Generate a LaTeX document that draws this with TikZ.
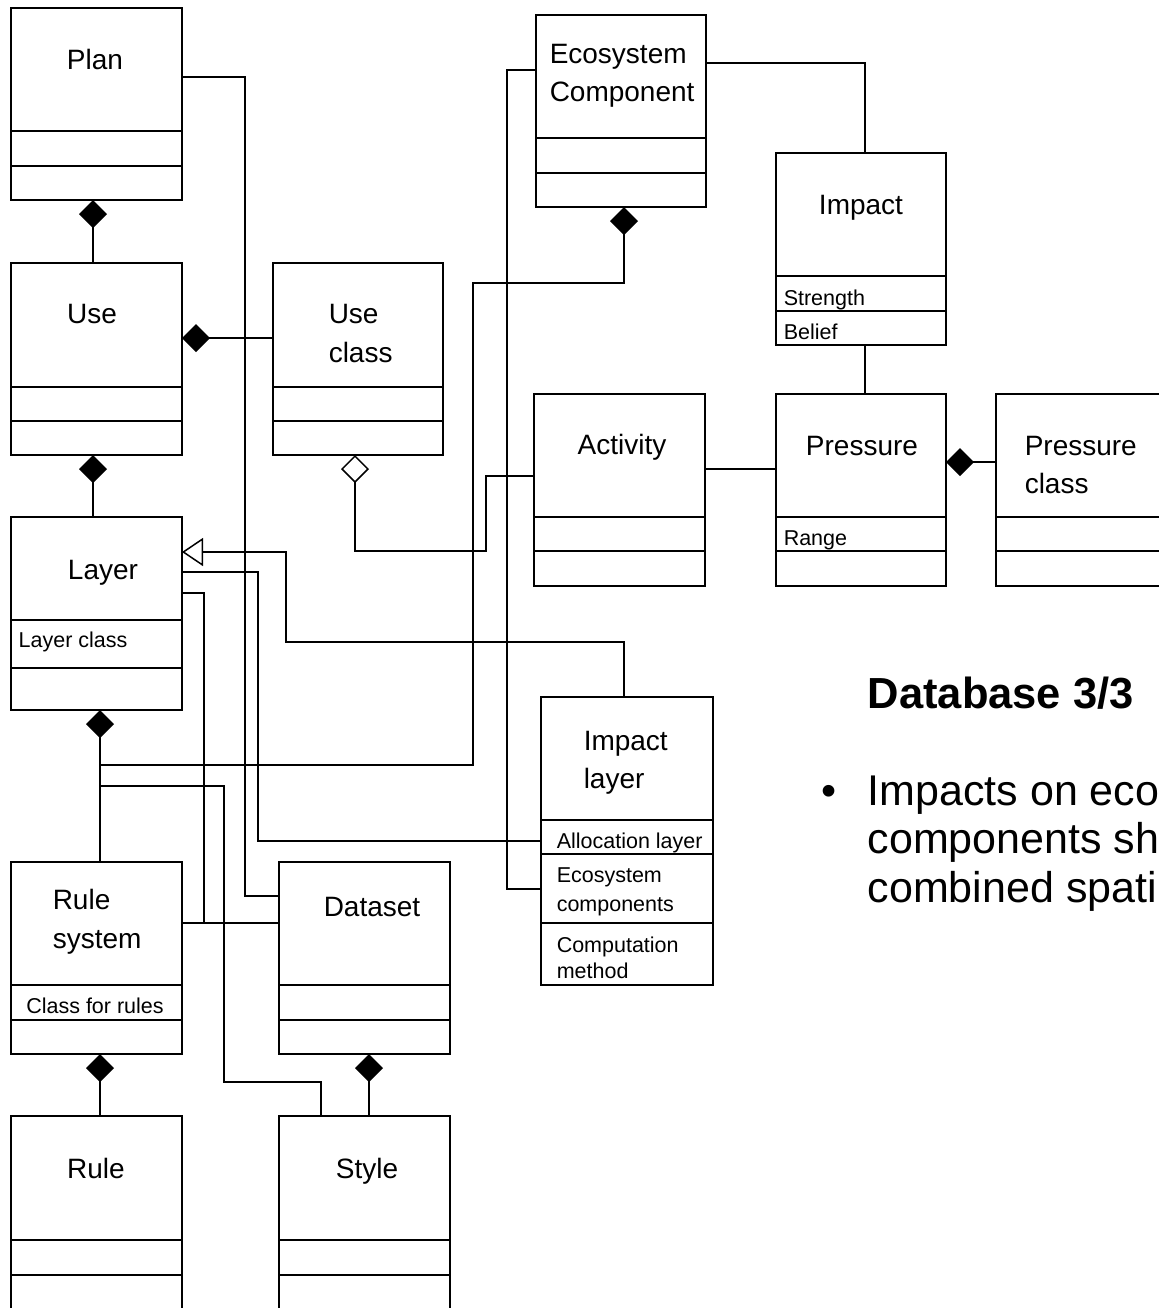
\documentclass[tikz,border=0pt]{standalone}
\usepackage{fontspec}
\setmainfont{Liberation Sans}
\usetikzlibrary{arrows.meta,calc}
\begin{document}
\begin{tikzpicture}[x=0.5pt,y=-0.5pt,
  line width=0.75pt,
  cls/.style={draw=black, rectangle, inner sep=0pt, outer sep=0pt, line width=0.75pt},
  big/.style={inner sep=0pt, font=\fontsize{14pt}{16pt}\selectfont},
  small/.style={inner sep=0pt, font=\fontsize{10.75pt}{12pt}\selectfont},
  conn/.style={draw=black, line width=0.75pt},
  comp/.style={-{Diamond[length=14pt,width=14pt,fill=black]}},
  aggr/.style={-{Diamond[length=14pt,width=14pt,open]}},
  gen/.style={-{Triangle[length=10.5pt,width=14pt,open]}}]
\clip (0,0) rectangle (1159,1308);
\useasboundingbox (0,0) rectangle (1159,1308);
\fill[white] (0,0) rectangle (1159,1308);
% box macro: name, x1, y1, x2, y2, line a, line b
\newcommand\umlbox[7]{%
  \pgfmathsetmacro\bw{(#4-#2)*0.5}%
  \pgfmathsetmacro\bh{(#5-#3)*0.5}%
  \node[cls, minimum width=\bw pt, minimum height=\bh pt] (#1) at ({(#2+#4)/2},{(#3+#5)/2}) {};
  \draw (#2,#6) -- (#4,#6);
  \draw (#2,#7) -- (#4,#7);
}
\umlbox{plan}{11}{8}{182}{200}{131}{166}
\umlbox{use}{11}{263}{182}{455}{387}{421}
\umlbox{layer}{11}{517}{182}{710}{620}{668}
\umlbox{rulesys}{11}{862}{182}{1054}{985}{1020}
\umlbox{rule}{11}{1116}{182}{1312}{1240}{1275}
\umlbox{useclass}{273}{263}{443}{455}{387}{421}
\umlbox{dataset}{279}{862}{450}{1054}{985}{1020}
\umlbox{style}{279}{1116}{450}{1312}{1240}{1275}
\umlbox{eco}{536}{15}{706}{207}{138}{173}
\umlbox{impact}{776}{153}{946}{345}{276}{311}
\umlbox{activity}{534}{394}{705}{586}{517}{551}
\umlbox{pressure}{776}{394}{946}{586}{517}{551}
\umlbox{pclass}{996}{394}{1172}{586}{517}{551}
\umlbox{implayer}{541}{697}{713}{985}{820}{854}
\draw (541,923) -- (713,923);

% texts
\node[big, anchor=base] (t-plan) at (95,69) {Plan};
\node[big, anchor=base] (t-use) at (92,323) {Use};
\node[big, anchor=base] (t-layer) at (103,579) {Layer};
\node[small, anchor=base west] (t-layerclass) at (18,647) {Layer class};
\node[big, anchor=base west] (t-rule1) at (52,909) {Rule};
\node[big, anchor=base west] (t-rule2) at (52,948) {system};
\node[small, anchor=base] (t-classrules) at (95,1013) {Class for rules};
\node[big, anchor=base] (t-rule) at (96,1178) {Rule};
\node[big, anchor=base] (t-dataset) at (372,916) {Dataset};
\node[big, anchor=base] (t-style) at (367,1178) {Style};
\node[big, anchor=base west] (t-uc1) at (328,323) {Use};
\node[big, anchor=base west] (t-uc2) at (328,362) {class};
\node[big, anchor=base west] (t-eco1) at (549,63) {Ecosystem};
\node[big, anchor=base west] (t-eco2) at (549,101) {Component};
\node[big, anchor=base] (t-impact) at (861,214) {Impact};
\node[small, anchor=base west] (t-strength) at (783,305) {Strength};
\node[small, anchor=base west] (t-belief) at (783,339) {Belief};
\node[big, anchor=base] (t-activity) at (622,454) {Activity};
\node[big, anchor=base] (t-pressure) at (862,455) {Pressure};
\node[small, anchor=base west] (t-range) at (783,545) {Range};
\node[big, anchor=base west] (t-pc1) at (1024,455) {Pressure};
\node[big, anchor=base west] (t-pc2) at (1024,493) {class};
\node[big, anchor=base west] (t-il1) at (583,750) {Impact};
\node[big, anchor=base west] (t-il2) at (583,788) {layer};
\node[small, anchor=base west] (t-alloc) at (556,848) {Allocation layer};
\node[small, anchor=base west] (t-ec1) at (556,882) {Ecosystem};
\node[small, anchor=base west] (t-ec2) at (556,911) {components};
\node[small, anchor=base west] (t-cm1) at (556,952) {Computation};
\node[small, anchor=base west] (t-cm2) at (556,978) {method};

% slide text
\node[inner sep=0pt, anchor=base west, font=\fontsize{21.75pt}{26pt}\selectfont\bfseries] (title) at (867,708) {Database 3/3};
\node[inner sep=0pt, anchor=base, font=\fontsize{21.5pt}{24pt}\selectfont] (bullet) at (829,805) {•};
\node[inner sep=0pt, anchor=base west, font=\fontsize{21.5pt}{24pt}\selectfont] (b1) at (867,805) {Impacts on eco};
\node[inner sep=0pt, anchor=base west, font=\fontsize{21.5pt}{24pt}\selectfont] (b2) at (867,853) {components sh};
\node[inner sep=0pt, anchor=base west, font=\fontsize{21.5pt}{24pt}\selectfont] (b3) at (867,902) {combined spati};

% connectors
\draw[conn, comp] ($(use.north west)+(82,0)$) -- ($(plan.south west)+(82,0)$);
\draw[conn, comp] ($(layer.north west)+(82,0)$) -- ($(use.south west)+(82,0)$);
\draw[conn, comp] ($(rulesys.north west)+(89,0)$) -- ($(layer.south west)+(89,0)$);
\draw[conn, comp] ($(rule.north west)+(89,0)$) -- ($(rulesys.south west)+(89,0)$);
\draw[conn, comp] ($(style.north west)+(90,0)$) -- ($(dataset.south west)+(90,0)$);
\draw[conn, comp] ($(useclass.north west)+(0,75)$) -- ($(use.north east)+(0,75)$);
\draw[conn, aggr] ($(activity.north west)+(0,82)$) -- ++(-48,0) |- ($(useclass.south west)+(82,96)$) -- ($(useclass.south west)+(82,0)$);
\draw[conn] ($(plan.north east)+(0,69)$) -- ++(63,0) |- ($(dataset.north west)+(0,34)$);
\draw[conn] ($(eco.north west)+(0,55)$) -- ++(-29,0) |- ($(implayer.north west)+(0,192)$);
\draw[conn] ($(eco.north east)+(0,48)$) -| ($(impact.north west)+(89,0)$);
\draw[conn] ($(impact.south west)+(89,0)$) -- ($(pressure.north west)+(89,0)$);
\draw[conn] ($(activity.north east)+(0,75)$) -- ($(pressure.north west)+(0,75)$);
\draw[conn, comp] ($(pclass.north west)+(0,68)$) -- ($(pressure.north east)+(0,68)$);
\draw[conn, comp] ($(layer.south west)+(89,55)$) -- ++(373,0) |- ($(eco.south west)+(88,76)$) -- ($(eco.south west)+(88,0)$);
\draw[conn, gen] ($(implayer.north west)+(83,0)$) -- ++(0,-55) -- ++(-338,0) |- ($(layer.north east)+(0,35)$);
\draw[conn] ($(layer.north east)+(0,55)$) -- ++(76,0) |- ($(implayer.north west)+(0,144)$);
\draw[conn] ($(layer.north east)+(0,76)$) -- ++(22,0) |- ($(dataset.north west)+(0,61)$);
\draw[conn] ($(rulesys.north east)+(0,61)$) -- ($(dataset.north west)+(0,61)$);
\draw[conn] ($(layer.south west)+(89,76)$) -- ++(124,0) |- ($(style.north west)+(42,-34)$) -- ($(style.north west)+(42,0)$);
\end{tikzpicture}
\end{document}
